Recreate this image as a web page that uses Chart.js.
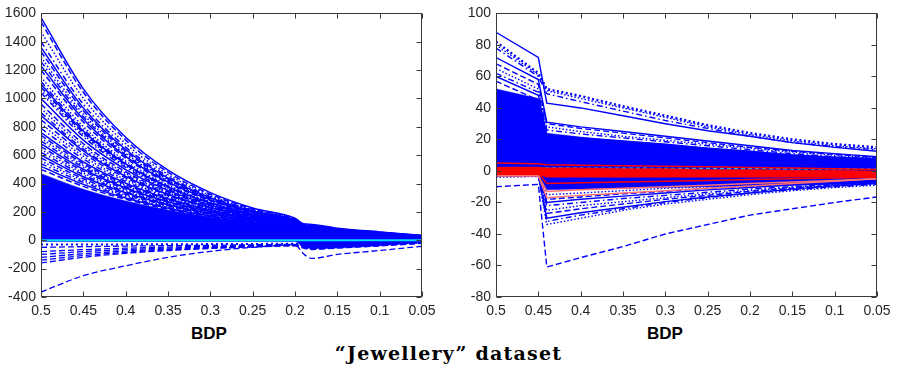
<!DOCTYPE html>
<html>
<head>
<meta charset="utf-8">
<script src="https://cdn.jsdelivr.net/npm/chart.js@4.4.1/dist/chart.umd.min.js"></script>
<style>
  body { margin: 0; background: #fff; width: 897px; height: 379px; position: relative; overflow: hidden; }
  .panel { position: absolute; top: 0; }
  .xlab { position: absolute; top: 324px; width: 100px; text-align: center; font: bold 17px "Liberation Sans", Arial, sans-serif; line-height: 20px; color: #000; }
  #title { position: absolute; left: 0; width: 897px; top: 342px; text-align: center; font: bold 19px "DejaVu Serif", serif; letter-spacing: 1.2px; line-height: 22px; color: #000; }
</style>
</head>
<body>
<div class="panel" style="left:0"><canvas id="leftChart" width="450" height="320"></canvas></div>
<div class="panel" style="left:450px"><canvas id="rightChart" width="447" height="320"></canvas></div>
<div class="xlab" style="left:159px">BDP</div>
<div class="xlab" style="left:615px">BDP</div>
<div id="title">“Jewellery” dataset</div>
<script>
// ---- left panel data ----
const bdpLeft = [0.5, 0.45, 0.4, 0.35, 0.3, 0.25, 0.2, 0.19, 0.18, 0.15, 0.1, 0.05];
const leftYTicks = [-400, 1600, 200];

const leftUpperLines = [
    [1570, 1068, 726, 494, 336, 228, 155, 116, 112, 85, 59, 34],
    [1540, 1044, 708, 480, 325, 221, 150, 112, 108, 82, 57, 33],
    [1470, 1001, 682, 464, 316, 215, 147, 110, 106, 81, 56, 32],
    [1400, 959, 657, 450, 308, 211, 145, 109, 104, 80, 55, 32],
    [1360, 933, 640, 439, 301, 207, 142, 107, 102, 78, 54, 31],
    [1330, 914, 628, 431, 296, 204, 140, 105, 101, 77, 53, 31],
    [1290, 890, 614, 424, 293, 202, 139, 104, 100, 76, 53, 31],
    [1260, 872, 603, 418, 289, 200, 138, 103, 99, 76, 52, 30],
    [1230, 853, 592, 410, 285, 197, 137, 103, 99, 75, 52, 30],
    [1200, 834, 580, 403, 280, 195, 135, 101, 97, 74, 51, 30],
    [1150, 802, 559, 389, 271, 189, 132, 99, 95, 73, 50, 29],
    [1120, 783, 547, 383, 267, 187, 131, 98, 94, 72, 50, 29],
    [1100, 770, 539, 377, 264, 185, 130, 97, 94, 72, 49, 29],
    [1080, 758, 532, 374, 262, 184, 129, 97, 93, 71, 49, 28],
    [1060, 745, 524, 368, 259, 182, 128, 96, 92, 70, 49, 28],
    [1040, 731, 514, 361, 254, 179, 126, 94, 91, 69, 48, 28],
    [1000, 706, 499, 352, 249, 176, 124, 93, 89, 68, 47, 27],
    [960, 681, 483, 342, 243, 172, 122, 91, 88, 67, 46, 27],
    [930, 662, 471, 336, 239, 170, 121, 91, 87, 67, 46, 27],
    [900, 644, 460, 329, 235, 168, 120, 90, 86, 66, 46, 26],
    [880, 630, 451, 323, 231, 166, 119, 89, 86, 65, 45, 26],
    [850, 612, 441, 317, 228, 164, 118, 88, 85, 65, 45, 26],
    [820, 592, 427, 309, 223, 161, 116, 87, 84, 64, 44, 26],
    [790, 573, 415, 301, 218, 158, 115, 86, 83, 63, 44, 25],
    [760, 553, 403, 293, 213, 155, 113, 85, 81, 62, 43, 25],
    [740, 540, 394, 288, 210, 153, 112, 84, 81, 62, 43, 25],
    [720, 527, 386, 283, 207, 151, 111, 83, 80, 61, 42, 24],
    [700, 515, 378, 278, 204, 150, 110, 82, 79, 60, 42, 24],
    [680, 501, 369, 272, 201, 148, 109, 82, 78, 60, 41, 24],
    [660, 488, 361, 267, 198, 146, 108, 81, 78, 59, 41, 24],
    [640, 474, 351, 260, 193, 143, 106, 80, 76, 58, 40, 23],
    [620, 461, 343, 255, 190, 141, 105, 79, 76, 58, 40, 23],
    [600, 448, 335, 250, 187, 139, 104, 78, 75, 57, 40, 23],
    [580, 434, 325, 244, 182, 137, 102, 76, 73, 56, 39, 22],
    [560, 421, 316, 238, 179, 134, 101, 76, 73, 56, 38, 22],
    [540, 408, 308, 232, 175, 132, 100, 75, 72, 55, 38, 22],
    [520, 394, 298, 226, 171, 129, 98, 74, 71, 54, 37, 22],
    [500, 380, 289, 219, 167, 127, 96, 72, 69, 53, 36, 21]
];

const leftLowerLines = [
    [-30, -30, -29, -28, -27, -26, -24, -40, -50, -42, -30, -16],
    [-50, -45, -41, -38, -35, -32, -29, -48, -58, -50, -36, -20],
    [-80, -66, -56, -48, -42, -37, -33, -55, -65, -55, -40, -22],
    [-100, -80, -66, -55, -47, -40, -35, -50, -58, -48, -34, -18],
    [-120, -95, -76, -62, -51, -43, -36, -45, -52, -44, -31, -16],
    [-140, -108, -85, -68, -55, -45, -38, -42, -48, -40, -28, -15],
    [-160, -120, -92, -72, -58, -47, -39, -40, -45, -38, -27, -14],
    [-365, -250, -180, -120, -78, -50, -32, -95, -128, -100, -72, -42]
];

// envelope of the densely packed curves
const leftBandTop = [470, 360, 277, 213, 164, 127, 99, 72, 68, 52, 36, 22];
const leftBandBottom = [-8, -8, -8, -8, -8, -8, -8, -50, -60, -55, -38, -15];
const leftZeroLine = [0, 0, 0, 0, 0, 0, 0, 0, 0, 0, 0, 0];

// ---- right panel data ----
const bdpRight = [0.5, 0.45, 0.44, 0.4, 0.35, 0.3, 0.25, 0.2, 0.15, 0.1, 0.05];
const rightYTicks = [-80, 100, 20];

const rightUpperLines = [
    [88, 72, 43, 40, 35, 30, 25.5, 22, 18, 15, 12.5],
    [82, 62, 52, 47.5, 41, 35, 29, 24, 20, 17, 15],
    [80, 61, 51, 46, 40, 34, 28, 23, 19, 16, 14],
    [78, 60, 49, 44, 38, 32, 27, 22, 18, 15.5, 13.5],
    [72, 58, 31, 28, 25, 22, 19, 16, 13, 11, 9],
    [68, 55, 30, 27, 24, 21, 18, 15, 12.5, 10.5, 8.5],
    [65, 52, 28, 25, 22, 19.5, 17, 14.5, 12, 10, 8],
    [62, 50, 26, 23.5, 21, 18.5, 16, 13.5, 11, 9, 7.5],
    [60, 48, 23, 21, 19, 17, 14.5, 12.5, 10, 8.5, 7],
    [57, 45, 21, 19, 17, 15, 13, 11, 9, 7.5, 6],
    [52, 42, 18, 16.5, 15, 13, 11.5, 10, 8.5, 7, 5.5],
    [47, 38, 16, 15, 13.5, 12, 10.5, 9, 7.5, 6.5, 5],
    [42, 35, 14, 13, 12, 10.5, 9, 8, 6.5, 5.5, 4.5],
    [40, 33, 12, 11, 10, 9, 8, 7, 6, 5, 4],
    [35, 30, 10, 9.5, 9, 8, 7, 6.5, 5.5, 4.5, 3.5],
    [24, 20, 8, 7.5, 7, 6.5, 6, 5, 4.5, 4, 3]
];

const rightLowerLines = [
    [-10, -8.5, -61, -55, -48, -40, -34, -28, -24, -20, -16.5],
    [-4, -3.5, -34, -30, -25, -21, -18, -15, -12.5, -10.5, -9],
    [-3, -3, -32, -28, -24, -20, -17, -14, -12, -10, -8.5],
    [-3, -3, -30, -26.5, -23, -19.5, -16.5, -14, -11.5, -9.5, -8],
    [-3, -3, -27, -24, -21, -18, -15.5, -13, -11, -9, -7.5],
    [-3, -2.5, -25, -22, -19.5, -17, -14.5, -12.5, -10.5, -9, -7.5],
    [-2.5, -2.5, -22, -20, -17.5, -15.5, -13.5, -11.5, -10, -8.5, -7],
    [-2.5, -2.5, -20, -18, -16, -14, -12, -10.5, -9, -8, -6.5],
    [-2, -2, -18, -16.5, -14.5, -13, -11, -10, -8.5, -7.5, -6],
    [-2, -2, -15, -14, -12.5, -11, -10, -9, -8, -7, -6]
];

const rightRedLines = [
    [5, 4.5, 4, 3.7, 3.3, 3, 2.6, 2.2, 1.8, 1.4, 1],
    [-3, -3, -13, -12, -11, -10, -9, -8, -7, -6, -5],
    [-3, -3, -17, -15.5, -14, -12.5, -11, -9.5, -8, -6.5, -5],
    [-1.5, -1.5, -8, -7.5, -7, -6.5, -6, -5.5, -5, -4.5, -4]
];
const rightRedBandTop = [2.5, 2.5, 2, 2, 1.5, 1.5, 1, 1, 0.5, 0.5, 0];
const rightRedBandBottom = [-2.5, -2.5, -4, -4, -4, -4, -4, -4, -4, -4, -4];
const rightCyanLine = [2, 2, 1.8, 1.8, 1.7, 1.6, 1.5, 1.4, 1.3, 1.2, 1.1];
const rightUpperBandTop = [52, 46, 24, 21.5, 19, 17, 14.5, 12.5, 10.5, 9, 8];
const rightUpperBandBottom = [0, 0, 0, 0, 0, 0, 0, 0, 0, 0, 0];
const rightLowerBandTop = [0, 0, 0, 0, 0, 0, 0, 0, 0, 0, 0];
const rightLowerBandBottom = [-3, -3, -12, -11.5, -11, -10.5, -10, -9.5, -9, -8.5, -8];

// ---- styling ----
const BLUE = '#0000ff';
const dashStyles = [[], [6, 3], [1.5, 2], [6, 3, 1.5, 3]];

function toPoints(xs, ys) {
    return ys.map((y, i) => ({ x: xs[i], y: y }));
}

function lineSet(xs, ys, color, dash, width, smooth) {
    return {
        data: toPoints(xs, ys),
        borderColor: color,
        borderWidth: width || 1,
        borderDash: dash || [],
        pointRadius: 0,
        fill: false,
        tension: 0,
        cubicInterpolationMode: smooth ? 'monotone' : 'default'
    };
}

function bandSets(xs, top, bottom, color, smooth) {
    const mode = smooth ? 'monotone' : 'default';
    return [{
        data: toPoints(xs, top),
        borderColor: color,
        borderWidth: 0.5,
        backgroundColor: color,
        pointRadius: 0,
        fill: '+1',
        tension: 0,
        cubicInterpolationMode: mode
    }, {
        data: toPoints(xs, bottom),
        borderColor: color,
        borderWidth: 0.5,
        pointRadius: 0,
        fill: false,
        tension: 0,
        cubicInterpolationMode: mode
    }];
}

// box and inward ticks, matlab style
const framePlugin = {
    id: 'frame',
    afterDatasetsDraw(chart) {
        const { ctx, chartArea: a, scales } = chart;
        const L = Math.round(a.left) + 0.5, R = Math.round(a.right) - 0.5;
        const T = Math.round(a.top) + 0.5, B = Math.round(a.bottom) - 0.5;
        const len = 5;
        ctx.save();
        ctx.strokeStyle = '#3a3a3a';
        ctx.lineWidth = 1;
        ctx.strokeRect(L, T, R - L, B - T);
        ctx.beginPath();
        scales.x.ticks.forEach(t => {
            const px = Math.round(scales.x.getPixelForValue(t.value)) + 0.5;
            ctx.moveTo(px, B); ctx.lineTo(px, B - len);
            ctx.moveTo(px, T); ctx.lineTo(px, T + len);
        });
        scales.y.ticks.forEach(t => {
            const py = Math.round(scales.y.getPixelForValue(t.value)) + 0.5;
            ctx.moveTo(L, py); ctx.lineTo(L + len, py);
            ctx.moveTo(R, py); ctx.lineTo(R - len, py);
        });
        ctx.stroke();
        ctx.restore();
    }
};

const tickFont = { family: '"Liberation Sans", Arial, sans-serif', size: 14 };

function makeOptions(yTicks, yWidth, padRight) {
    return {
        responsive: false,
        animation: false,
        events: [],
        layout: { padding: { top: 11, right: padRight, left: 0, bottom: 0 } },
        plugins: { legend: { display: false }, tooltip: { enabled: false } },
        scales: {
            x: {
                type: 'linear',
                reverse: true,
                min: 0.05,
                max: 0.5,
                grid: { display: false, drawTicks: false },
                border: { display: false },
                ticks: {
                    stepSize: 0.05,
                    padding: 6,
                    color: '#262626',
                    font: tickFont,
                    maxRotation: 0,
                    autoSkip: false,
                    callback: v => String(parseFloat(v.toFixed(2)))
                },
                afterFit: s => { s.height = 23; }
            },
            y: {
                min: yTicks[0],
                max: yTicks[1],
                grid: { display: false, drawTicks: false },
                border: { display: false },
                ticks: {
                    stepSize: yTicks[2],
                    padding: 5,
                    color: '#262626',
                    font: tickFont,
                    autoSkip: false,
                    callback: v => String(v)
                },
                afterFit: s => { s.width = yWidth; }
            }
        }
    };
}

// ---- left chart ----
const leftSets = [];
leftSets.push(lineSet(bdpLeft, leftZeroLine, '#00ddff', [], 2, false));
leftUpperLines.forEach((ys, i) => leftSets.push(lineSet(bdpLeft, ys, BLUE, dashStyles[i % 4], 1.5, true)));
leftLowerLines.forEach((ys, i) => leftSets.push(lineSet(bdpLeft, ys, BLUE, i === 0 ? [2, 3] : dashStyles[1], i === 0 ? 2 : 1.3, true)));
bandSets(bdpLeft, leftBandTop, leftBandBottom, BLUE, true).forEach(d => leftSets.push(d));

new Chart(document.getElementById('leftChart').getContext('2d'), {
    type: 'line',
    data: { datasets: leftSets },
    options: makeOptions(leftYTicks, 41, 28),
    plugins: [framePlugin]
});

// ---- right chart ----
const rightSets = [];
rightRedLines.forEach((ys, i) => rightSets.push(lineSet(bdpRight, ys, i === 1 || i === 2 ? '#ff7070' : '#ff0000', [], 1.5, false)));
bandSets(bdpRight, rightRedBandTop, rightRedBandBottom, '#ff0000', false).forEach(d => rightSets.push(d));
rightSets.push(lineSet(bdpRight, rightCyanLine, '#00ccee', [4, 3], 1.5, false));
rightUpperLines.forEach((ys, i) => rightSets.push(lineSet(bdpRight, ys, BLUE, i === 1 ? [2, 2.5] : dashStyles[i % 4], i === 1 ? 2.5 : 1.4, false)));
rightLowerLines.forEach((ys, i) => rightSets.push(lineSet(bdpRight, ys, BLUE, dashStyles[(i + 1) % 4], 1.4, false)));
bandSets(bdpRight, rightUpperBandTop, rightUpperBandBottom, BLUE, false).forEach(d => rightSets.push(d));
bandSets(bdpRight, rightLowerBandTop, rightLowerBandBottom, BLUE, false).forEach(d => rightSets.push(d));

new Chart(document.getElementById('rightChart').getContext('2d'), {
    type: 'line',
    data: { datasets: rightSets },
    options: makeOptions(rightYTicks, 46, 20),
    plugins: [framePlugin]
});
</script>
</body>
</html>
